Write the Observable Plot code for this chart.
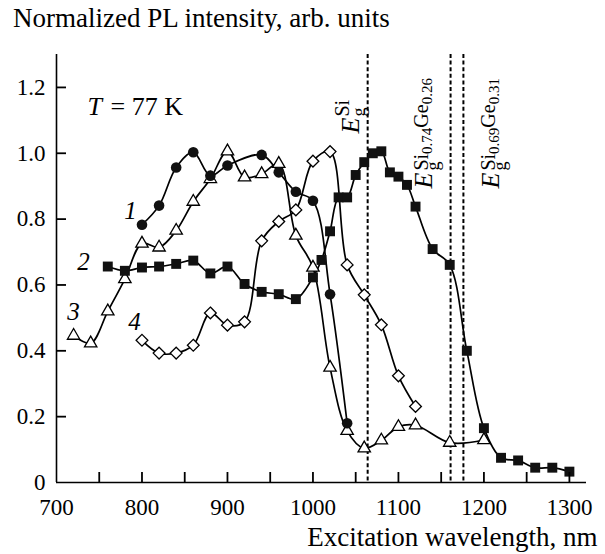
<!DOCTYPE html>
<html>
<head>
<meta charset="utf-8">
<script src="https://cdn.jsdelivr.net/npm/d3@7"></script>
<script src="https://cdn.jsdelivr.net/npm/@observablehq/plot@0.6"></script>
<style>
  body { margin: 0; background: #fff; }
  #title { height: 40px; line-height: 36px; font-size: 27px; font-family: "Liberation Serif", serif; padding-left: 13px; white-space: nowrap; color: #000; }
</style>
</head>
<body>
<div id="title">Normalized PL intensity, arb. units</div>
<div id="chart"></div>
<script>
// ---- data ----
const c1X = [800, 820, 840, 860, 880, 900, 940, 960, 980, 1000, 1020, 1040];
const c1Y = [0.783, 0.841, 0.957, 1.003, 0.932, 0.963, 0.995, 0.942, 0.883, 0.856, 0.572, 0.18];

const c2X = [760, 780, 800, 820, 840, 860, 880, 900, 920, 940, 960, 980, 1000, 1010, 1020, 1030, 1040, 1050, 1060, 1070, 1080, 1090, 1100, 1110, 1120, 1140, 1160, 1180, 1200, 1220, 1240, 1260, 1280, 1300];
const c2Y = [0.656, 0.643, 0.653, 0.656, 0.664, 0.674, 0.635, 0.656, 0.603, 0.579, 0.572, 0.557, 0.623, 0.676, 0.763, 0.866, 0.866, 0.934, 0.973, 1.0, 1.006, 0.942, 0.929, 0.904, 0.838, 0.709, 0.661, 0.40, 0.165, 0.075, 0.067, 0.045, 0.045, 0.033];

const c3X = [720, 740, 760, 780, 800, 820, 840, 860, 880, 900, 920, 940, 960, 980, 1000, 1020, 1040, 1060, 1080, 1100, 1120, 1160, 1200];
const c3Y = [0.446, 0.423, 0.52, 0.618, 0.726, 0.714, 0.765, 0.853, 0.922, 1.006, 0.927, 0.937, 0.968, 0.75, 0.653, 0.349, 0.157, 0.104, 0.128, 0.169, 0.174, 0.121, 0.129];

const c4X = [800, 820, 840, 860, 880, 900, 920, 940, 960, 980, 1000, 1020, 1040, 1060, 1080, 1100, 1120];
const c4Y = [0.432, 0.393, 0.393, 0.417, 0.515, 0.478, 0.488, 0.734, 0.793, 0.828, 0.976, 1.005, 0.661, 0.570, 0.479, 0.324, 0.231];

const egLinesX = [1064, 1161, 1176];

const xMinorTicks = [750, 800, 850, 900, 950, 1000, 1050, 1100, 1150, 1200, 1250, 1300];
const xLabelTicks = [700, 800, 900, 1000, 1100, 1200, 1300];
const yMarkTicks = [0.2, 0.4, 0.6, 0.8, 1.0, 1.2];
const yLabelTicks = [0, 0.2, 0.4, 0.6, 0.8, 1.0, 1.2];

const curveLabels = [
  {t: "1", x: 786.6, y: 0.826},
  {t: "2", x: 731.6, y: 0.671},
  {t: "3", x: 719.9, y: 0.519},
  {t: "4", x: 791.2, y: 0.488}
];
const tempLabelItalic = [{t: "T", x: 736.3, y: 1.142}];
const tempLabelRest = [{t: "= 77 K", x: 763.2, y: 1.142}];

const egLabels = [
  {key: "EgA", x: 1054, y: 1.06},
  {key: "EgB", x: 1139.5, y: 0.893},
  {key: "EgC", x: 1217.1, y: 0.893}
];
const egParts = {
  EgA: [
    {t: "E", size: 26, italic: true},
    {t: "g", size: 18, dx: 1, dy: 6},
    {t: "Si", size: 20, dx: -9, dy: -16}
  ],
  EgB: [
    {t: "E", size: 26, italic: true},
    {t: "g", size: 18, dx: 2, dy: 7},
    {t: "Si", size: 20, dx: -9, dy: -11},
    {t: "0.74", size: 15, dy: 4},
    {t: "Ge", size: 20, dy: -4},
    {t: "0.26", size: 15, dy: 4}
  ],
  EgC: [
    {t: "E", size: 26, italic: true},
    {t: "g", size: 18, dx: 2, dy: 7},
    {t: "Si", size: 20, dx: -9, dy: -11},
    {t: "0.69", size: 15, dy: 4},
    {t: "Ge", size: 20, dy: -4},
    {t: "0.31", size: 15, dy: 4}
  ]
};

const xAxisTitle = "Excitation wavelength, nm";

// ---- tables ----
const toRows = (id, xs, ys) => xs.map((x, i) => ({series: id, x, y: ys[i]}));
const s1 = toRows("1", c1X, c1Y);
const s2 = toRows("2", c2X, c2Y);
const s3 = toRows("3", c3X, c3Y);
const s4 = toRows("4", c4X, c4Y);
const allRows = [...s1, ...s2, ...s3, ...s4];

const serif = "'Liberation Serif', 'Times New Roman', serif";

const W = 605, H = 514, mT = 14, mB = 72, mL = 56, mR = 19;
const xDomain = [700, 1320], yDomain = [0, 1.3];
const frameH = H - mT - mB, frameW = W - mL - mR, tickLenPx = 10;
// tick length converted from pixels to data units
const tickLenY = tickLenPx * (yDomain[1] - yDomain[0]) / frameH;
const tickLenX = tickLenPx * (xDomain[1] - xDomain[0]) / frameW;

const plot = Plot.plot({
  width: W,
  height: H,
  marginTop: mT,
  marginBottom: mB,
  marginLeft: mL,
  marginRight: mR,
  x: {domain: xDomain, label: null},
  y: {domain: yDomain, label: null},
  style: {fontFamily: serif, fontSize: "23px", color: "black", background: "white"},
  marks: [
    Plot.ruleX(egLinesX, {x: d => d, stroke: "black", strokeWidth: 2, strokeDasharray: "4,2.6"}),
    Plot.line(allRows, {x: "x", y: "y", z: "series", curve: "catmull-rom", stroke: "black", strokeWidth: 1.7}),
    Plot.dot(s4, {x: "x", y: "y", symbol: "diamond2", r: 5.3, fill: "white", stroke: "black", strokeWidth: 1.3}),
    Plot.dot(s3, {x: "x", y: "y", symbol: "triangle", r: 4.6, fill: "white", stroke: "black", strokeWidth: 1.3}),
    Plot.dot(s1, {x: "x", y: "y", symbol: "circle", r: 5.3, fill: "#111", stroke: "none"}),
    Plot.dot(s2, {x: "x", y: "y", symbol: "square", r: 5.6, fill: "#111", stroke: "none"}),
    // inward ticks
    Plot.ruleX(xMinorTicks, {x: d => d, y1: yDomain[0], y2: yDomain[0] + tickLenY, stroke: "black", strokeWidth: 1.8}),
    Plot.ruleY(yMarkTicks, {y: d => d, x1: xDomain[0], x2: xDomain[0] + tickLenX, stroke: "black", strokeWidth: 1.8}),
    Plot.axisX({ticks: xLabelTicks, tickSize: 0, tickPadding: 16, tickFormat: d => String(d), label: null}),
    Plot.axisY({ticks: yLabelTicks, tickSize: 0, tickPadding: 11, tickFormat: d => d === 0 ? "0" : d.toFixed(1), label: null}),
    Plot.ruleY([0], {stroke: "black", strokeWidth: 1.6}),
    Plot.ruleX([700], {stroke: "black", strokeWidth: 1.6}),
    Plot.text(curveLabels, {x: "x", y: "y", text: "t", fontStyle: "italic", fontSize: 25}),
    Plot.text(tempLabelItalic, {x: "x", y: "y", text: "t", fontStyle: "italic", fontSize: 26, textAnchor: "start"}),
    Plot.text(tempLabelRest, {x: "x", y: "y", text: "t", fontSize: 26, textAnchor: "start"}),
    Plot.text(egLabels, {x: "x", y: "y", text: "key", rotate: -90, textAnchor: "start", lineAnchor: "bottom", fontSize: 26}),
    Plot.text([xAxisTitle], {text: d => d, frameAnchor: "bottom-right", textAnchor: "end", lineAnchor: "bottom", dx: 11, dy: 63, fontSize: 27})
  ]
});

// build super/subscript labels with tspans
d3.select(plot).selectAll("text").each(function () {
  const key = this.textContent;
  if (!egParts[key]) return;
  const el = d3.select(this);
  el.text(null);
  for (const p of egParts[key]) {
    const ts = el.append("tspan").text(p.t).attr("font-size", p.size);
    if (p.italic) ts.attr("font-style", "italic");
    if (p.dx) ts.attr("dx", p.dx);
    if (p.dy) ts.attr("dy", p.dy);
  }
});

document.getElementById("chart").appendChild(plot);
</script>
</body>
</html>
